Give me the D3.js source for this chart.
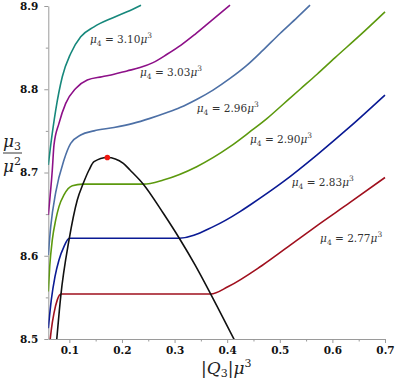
<!DOCTYPE html>
<html>
<head>
<meta charset="utf-8">
<script src="https://cdn.jsdelivr.net/npm/d3@7/dist/d3.min.js"></script>
<style>
body { margin: 0; background: #fff; }
</style>
</head>
<body>
<svg id="chart" width="395" height="381"></svg>
<script>
// mu4 values, in units of mu^3
var mu4Values = ['3.10', '3.03', '2.96', '2.90', '2.83', '2.77'];
var lineColors = ['#17887c', '#8d1088', '#4d70a6', '#5c990e', '#0a1a94', '#a0101e'];

// mu3/mu^2 against |Q3| mu^3, one array per mu4
var curve310 = [[0.060, 8.709], [0.0646, 8.733], [0.0741, 8.775], [0.0866, 8.815], [0.1026, 8.843],
    [0.1216, 8.863], [0.1469, 8.875], [0.1830, 8.886], [0.2096, 8.893], [0.2362, 8.901]];
var curve303 = [[0.060, 8.649], [0.0676, 8.703], [0.0708, 8.733], [0.0803, 8.759], [0.0931, 8.783],
    [0.1121, 8.801], [0.1341, 8.811], [0.1621, 8.815], [0.1849, 8.818], [0.2096, 8.822],
    [0.2343, 8.826], [0.2590, 8.832], [0.2857, 8.842], [0.3123, 8.853], [0.3389, 8.866],
    [0.3712, 8.883], [0.4054, 8.901]];
var curve296 = [[0.060, 8.601], [0.0646, 8.635], [0.0741, 8.676], [0.0898, 8.715], [0.1026, 8.735],
    [0.1216, 8.745], [0.1469, 8.750], [0.1849, 8.754], [0.2212, 8.759], [0.2533, 8.765],
    [0.2857, 8.772], [0.3104, 8.778], [0.3427, 8.788], [0.3731, 8.799], [0.4054, 8.813],
    [0.4378, 8.829], [0.4682, 8.847], [0.5005, 8.867], [0.5328, 8.886], [0.5575, 8.901]];
var curve290 = [[0.060, 8.557], [0.0627, 8.587], [0.0676, 8.619], [0.0741, 8.643], [0.0803, 8.659],
    [0.0898, 8.673], [0.1056, 8.684], [0.1254, 8.686], [0.2406, 8.686], [0.2786, 8.691],
    [0.3421, 8.707], [0.4054, 8.731], [0.4435, 8.749], [0.4760, 8.765], [0.5064, 8.782],
    [0.5386, 8.800], [0.5709, 8.818], [0.6052, 8.838], [0.6527, 8.865], [0.700, 8.893]];
var curve283 = [[0.060, 8.513], [0.0657, 8.547], [0.0727, 8.575], [0.0803, 8.595], [0.0898, 8.611],
    [0.0999, 8.621], [0.3090, 8.621], [0.3737, 8.635], [0.4244, 8.653], [0.4435, 8.661],
    [0.5068, 8.689], [0.5703, 8.721], [0.6336, 8.755], [0.700, 8.793]];
var curve277 = [[0.0625, 8.493], [0.0657, 8.511], [0.0708, 8.531], [0.0771, 8.547], [0.0840, 8.554],
    [0.3687, 8.554], [0.4022, 8.563], [0.4657, 8.588], [0.5290, 8.617], [0.5703, 8.636],
    [0.6336, 8.664], [0.700, 8.694]];

// black boundary curve and its maximum
var boundary = [[0.0760, 8.499], [0.0836, 8.551], [0.0994, 8.619], [0.1151, 8.667], [0.1265, 8.687],
    [0.1374, 8.703], [0.1469, 8.713], [0.1722, 8.718], [0.2026, 8.711], [0.2153, 8.703],
    [0.2406, 8.686], [0.2786, 8.651], [0.3090, 8.621], [0.3389, 8.589], [0.3687, 8.554],
    [0.4136, 8.499]];
var criticalPoint = [0.1722, 8.718];

// where each mu4 label sits (left end, baseline)
var labelAnchors = [[0.1393, 8.856], [0.2343, 8.816], [0.3421, 8.773], [0.4434, 8.735], [0.5227, 8.684], [0.5766, 8.616]];

var xTicks = [0.1, 0.2, 0.3, 0.4, 0.5, 0.6, 0.7];
var xMinorTicks = [0.15, 0.25, 0.35, 0.45, 0.55, 0.65];
var yTicks = [8.5, 8.6, 8.7, 8.8, 8.9];
var yMinorTicks = [8.55, 8.65, 8.75, 8.85];

var curves = [curve310, curve303, curve296, curve290, curve283, curve277];
var serif = "'DejaVu Serif', serif";

var svg = d3.select('#chart');
var xScale = d3.scaleLinear().domain([0.06, 0.7]).range([48.3, 385]);
var yScale = d3.scaleLinear().domain([8.5, 8.9]).range([339, 6]);

svg.append('defs').append('clipPath').attr('id', 'plotClip')
    .append('rect')
    .attr('x', xScale(0.06))
    .attr('y', yScale(8.9) - 3)
    .attr('width', xScale(0.7) - xScale(0.06) + 2)
    .attr('height', yScale(8.5) - yScale(8.9) + 3);

// axes
svg.append('g')
    .attr('transform', 'translate(0,' + yScale(8.5) + ')')
    .call(d3.axisBottom(xScale).tickValues(xTicks).tickSize(4).tickSizeOuter(0).tickPadding(4)
        .tickFormat(d3.format('.1f')));
svg.append('g')
    .attr('transform', 'translate(0,' + yScale(8.5) + ')')
    .call(d3.axisBottom(xScale).tickValues(xMinorTicks).tickSize(2.5).tickSizeOuter(0).tickFormat(''))
    .select('.domain').remove();
svg.append('g')
    .attr('transform', 'translate(' + xScale(0.06) + ',0)')
    .call(d3.axisLeft(yScale).tickValues(yTicks).tickSize(4).tickSizeOuter(0).tickPadding(6)
        .tickFormat(d3.format('.1f')));
svg.append('g')
    .attr('transform', 'translate(' + xScale(0.06) + ',0)')
    .call(d3.axisLeft(yScale).tickValues(yMinorTicks).tickSize(2.5).tickSizeOuter(0).tickFormat(''))
    .select('.domain').remove();
svg.selectAll('.tick line').attr('stroke', '#9a9a9a');
svg.selectAll('.domain').attr('stroke', '#9a9a9a');
svg.selectAll('.tick text')
    .attr('fill', '#111')
    .attr('font-family', serif)
    .style('font-family', serif)
    .style('font-size', '10.5px')
    .style('font-weight', 'bold');

// curves
var line = d3.line()
    .x(function (d) { return xScale(d[0]); })
    .y(function (d) { return yScale(d[1]); })
    .curve(d3.curveMonotoneX);

var plot = svg.append('g').attr('clip-path', 'url(#plotClip)');
plot.selectAll('path.mu4')
    .data(curves)
    .enter()
    .append('path')
    .attr('class', 'mu4')
    .attr('d', line)
    .attr('fill', 'none')
    .attr('stroke', function (d, i) { return lineColors[i]; })
    .attr('stroke-width', 1.6);
plot.append('path')
    .attr('d', line(boundary))
    .attr('fill', 'none')
    .attr('stroke', '#111')
    .attr('stroke-width', 1.6);
svg.append('circle')
    .attr('cx', xScale(criticalPoint[0]))
    .attr('cy', yScale(criticalPoint[1]))
    .attr('r', 2.8)
    .attr('fill', '#f0170f');

// mu4 labels
labelAnchors.forEach(function (p, i) {
    var t = svg.append('text')
        .attr('x', xScale(p[0]))
        .attr('y', yScale(p[1]))
        .attr('fill', '#333')
        .style('font-family', serif)
        .style('font-size', '10.5px');
    t.append('tspan').style('font-style', 'italic').text('μ');
    t.append('tspan').attr('dy', 3).style('font-size', '7.5px').text('4');
    t.append('tspan').attr('dy', -3).text(' = ' + mu4Values[i]);
    t.append('tspan').style('font-style', 'italic').text('μ');
    t.append('tspan').attr('dy', -5).style('font-size', '7.5px').text('3');
});

// axis titles
var xTitle = svg.append('text')
    .attr('x', 201)
    .attr('y', 374)
    .attr('fill', '#222')
    .style('font-family', serif)
    .style('font-size', '17px');
xTitle.append('tspan').text('|');
xTitle.append('tspan').style('font-style', 'italic').text('Q');
xTitle.append('tspan').attr('dy', 3).style('font-size', '11px').text('3');
xTitle.append('tspan').attr('dy', -3).text('|');
xTitle.append('tspan').style('font-style', 'italic').text('μ');
xTitle.append('tspan').attr('dy', -7).style('font-size', '11px').text('3');

var yTitle = svg.append('g').attr('fill', '#222').style('font-family', serif);
var num = yTitle.append('text').attr('x', 3).attr('y', 147).style('font-size', '17px');
num.append('tspan').style('font-style', 'italic').text('μ');
num.append('tspan').attr('dy', 3).style('font-size', '11px').text('3');
yTitle.append('line')
    .attr('x1', 3).attr('x2', 22)
    .attr('y1', 153).attr('y2', 153)
    .attr('stroke', '#222').attr('stroke-width', 0.9);
var den = yTitle.append('text').attr('x', 3).attr('y', 172).style('font-size', '17px');
den.append('tspan').style('font-style', 'italic').text('μ');
den.append('tspan').attr('dy', -7).style('font-size', '11px').text('2');
</script>
</body>
</html>
